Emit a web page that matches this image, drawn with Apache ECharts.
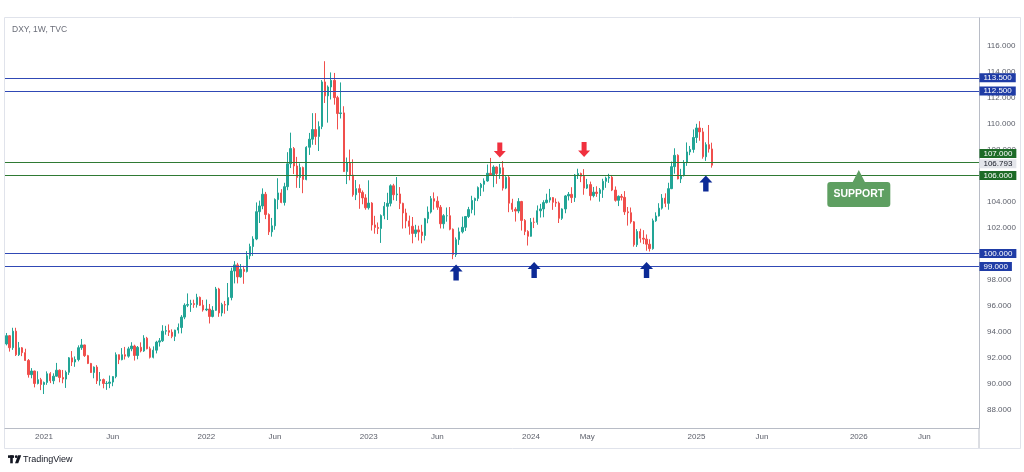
<!DOCTYPE html>
<html><head><meta charset="utf-8">
<script src="https://cdn.jsdelivr.net/npm/echarts@6/dist/echarts.min.js"></script>
<style>html,body{margin:0;padding:0;background:#fff}#c{width:1024px;height:472px}</style>
</head><body><div id="c"></div>
<script>
// Weekly DXY bars, first bar = week of 2020-10-12
const startWeek = [2020, 9, 12];
const weekCount = 312; // bars on the time axis incl. empty space to the right

const dxyOpen = [
 93.06,93.69,92.77,94.04,92.23,92.76,92.39,91.79,90.70,90.98,90.02,90.31,
 89.94,90.10,90.77,90.23,90.58,91.04,90.48,90.36,90.88,91.99,91.67,91.86,92.77,92.98,92.16,91.56,90.86,91.28,90.23,90.32,90.02,90.03,90.13,90.55,92.23,91.85,92.23,92.12,92.68,92.90,92.17,92.80,92.52,93.50,92.69,92.03,92.58,93.20,93.30,94.04,94.08,93.96,93.64,94.12,94.32,95.12,96.03,96.09,96.16,96.08,96.64,96.03,
 95.67,95.74,95.17,95.64,97.28,95.44,96.08,96.05,96.62,98.66,99.13,98.21,98.79,98.63,99.83,100.54,101.12,103.22,103.66,104.56,103.00,101.67,102.13,104.15,104.66,103.93,105.14,106.90,108.07,106.73,105.85,106.61,105.69,108.17,108.79,109.53,109.00,109.76,113.19,112.12,112.80,113.31,111.98,110.76,110.81,106.30,106.98,106.03,104.52,104.99,104.70,104.28,
 103.52,103.88,102.20,102.01,101.93,102.92,103.63,103.86,105.21,104.52,104.58,103.86,103.12,102.51,102.10,101.55,101.82,101.66,101.39,102.68,103.19,104.22,104.03,103.56,102.29,102.91,102.91,101.87,99.92,101.07,101.67,102.02,102.85,103.38,104.08,104.24,105.07,105.32,105.58,106.17,106.04,106.65,106.16,106.59,105.03,105.86,103.87,103.40,103.27,104.00,102.55,101.70,
 101.33,102.41,102.40,103.29,103.43,103.92,104.11,104.30,103.94,103.88,102.71,103.43,104.43,104.55,104.30,106.04,106.15,105.95,105.03,105.30,104.45,104.72,104.62,104.90,105.55,105.80,105.87,104.88,104.09,104.40,104.32,103.21,103.14,102.44,100.68,101.70,101.18,101.11,100.72,100.38,102.52,102.89,103.49,104.26,103.86,104.99,106.68,107.55,105.74,105.99,106.99,107.81,108.00,
 108.92,109.65,109.35,107.44,108.37,108.04
];
const dxyHigh = [
 93.90,93.74,94.30,94.30,93.21,92.82,92.69,91.90,91.20,91.00,90.96,90.45,
 90.17,90.95,90.89,90.80,91.60,91.10,91.06,91.02,92.05,92.51,92.10,92.95,93.44,93.00,92.22,91.60,91.33,91.43,90.90,90.40,90.20,90.63,90.58,92.41,92.25,92.74,92.83,92.84,93.19,93.00,92.90,93.18,93.73,93.60,92.85,92.87,93.30,93.51,94.50,94.45,94.56,94.18,94.15,94.63,95.27,96.18,96.94,96.45,96.46,96.91,96.70,96.44,
 96.47,96.13,95.96,97.44,97.37,96.22,96.36,97.74,98.92,99.42,99.29,99.20,99.06,100.19,100.76,101.33,103.93,104.07,105.01,104.74,103.09,102.74,104.24,105.79,104.95,105.44,107.79,109.29,108.19,107.43,106.93,106.69,108.25,109.27,110.79,110.79,110.16,113.33,114.78,112.92,113.92,113.88,112.12,113.15,111.32,107.38,107.99,107.24,105.65,105.32,104.85,104.56,
 105.63,103.95,102.90,102.39,103.01,103.96,104.67,105.32,105.36,105.88,105.11,103.91,103.45,102.92,102.81,102.21,102.14,102.21,102.74,103.62,104.42,104.70,104.40,103.73,103.03,103.54,103.58,101.93,101.24,102.00,102.84,102.85,103.59,104.44,104.30,105.16,105.43,105.78,106.84,107.35,106.78,106.70,106.89,107.11,105.95,106.00,104.21,103.56,104.26,104.05,102.65,101.80,
 102.73,102.76,103.70,103.82,104.10,104.60,104.97,104.34,104.24,104.00,103.48,104.49,104.73,105.10,106.11,106.52,106.22,106.49,105.74,105.53,105.12,105.17,105.04,105.75,105.91,106.13,106.04,105.16,104.47,104.58,104.80,103.58,103.54,102.50,101.88,101.91,101.80,101.47,101.10,102.69,103.17,103.87,104.57,104.63,105.44,107.07,108.09,107.63,106.51,107.18,108.54,108.27,109.54,
 109.97,110.17,109.65,108.55,109.88,108.52
];
const dxyLow = [
 92.95,92.47,92.60,92.13,92.13,92.12,91.75,90.47,90.42,89.72,89.95,89.51,
 89.21,89.92,90.05,89.97,90.55,90.11,90.04,89.68,90.68,91.36,91.30,91.72,92.60,92.06,91.51,90.84,90.42,89.98,89.86,89.65,89.53,89.66,89.81,90.42,91.51,91.80,91.86,92.00,92.50,91.78,91.88,92.41,92.45,92.64,91.94,91.95,92.33,92.86,93.21,93.77,93.67,93.50,93.28,93.86,93.87,94.96,95.89,95.52,95.83,95.85,95.97,95.54,
 95.58,94.63,95.10,95.60,95.14,95.18,95.38,95.60,96.41,97.71,97.71,98.14,97.68,98.55,99.57,99.82,101.03,102.35,103.41,102.65,101.43,101.30,101.83,103.41,103.87,103.69,104.87,106.57,106.11,105.05,105.04,104.64,105.63,107.58,108.36,108.35,107.88,109.56,111.57,110.06,111.84,111.44,109.54,110.38,106.27,105.34,105.63,104.37,104.11,103.44,103.79,103.37,
 103.38,101.77,101.53,101.50,100.82,102.64,102.58,103.63,104.10,104.05,103.42,101.92,101.95,101.45,100.79,101.26,101.00,100.79,101.01,102.33,103.08,103.37,103.36,101.93,101.92,102.45,101.79,99.57,99.74,100.67,101.55,101.74,102.73,103.09,102.94,104.03,104.42,104.76,105.52,106.00,105.10,105.36,105.74,104.84,104.95,103.18,103.20,102.46,103.10,101.77,101.42,100.62,
 101.30,101.96,102.22,102.77,102.79,103.85,103.92,103.36,103.59,102.35,102.59,103.10,104.08,103.89,103.97,105.73,105.49,104.52,104.96,104.08,104.32,104.36,103.99,104.28,105.05,105.43,104.80,103.99,103.65,104.08,102.97,102.15,102.30,100.53,100.51,100.84,100.73,100.22,100.16,100.30,102.44,102.85,103.38,103.57,103.37,104.95,106.14,105.70,105.42,105.92,106.74,107.56,107.75,
 108.50,108.67,107.29,107.12,107.76,106.60
];
const dxyClose = [
 93.69,92.77,94.04,92.23,92.76,92.39,91.79,90.70,90.98,90.02,90.31,89.94,
 90.10,90.77,90.23,90.58,91.04,90.48,90.36,90.88,91.99,91.67,91.86,92.77,92.98,92.16,91.56,90.86,91.28,90.23,90.32,90.02,90.03,90.13,90.55,92.23,91.85,92.23,92.12,92.68,92.90,92.17,92.80,92.52,93.50,92.69,92.03,92.58,93.20,93.30,94.04,94.08,93.96,93.64,94.12,94.32,95.12,96.03,96.09,96.16,96.08,96.64,96.03,95.67,
 95.74,95.17,95.64,97.28,95.44,96.08,96.05,96.62,98.66,99.13,98.21,98.79,98.63,99.83,100.54,101.12,103.22,103.66,104.56,103.00,101.67,102.13,104.15,104.66,103.93,105.14,106.90,108.07,106.73,105.85,106.61,105.69,108.17,108.79,109.53,109.00,109.76,113.19,112.12,112.80,113.31,111.98,110.76,110.81,106.30,106.98,106.03,104.52,104.99,104.70,104.28,103.52,
 103.88,102.20,102.01,101.93,102.92,103.63,103.86,105.21,104.52,104.58,103.86,103.12,102.51,102.10,101.55,101.82,101.66,101.39,102.68,103.19,104.22,104.03,103.56,102.29,102.91,102.91,101.87,99.92,101.07,101.67,102.02,102.85,103.38,104.08,104.24,105.07,105.32,105.58,106.17,106.04,106.65,106.16,106.59,105.03,105.86,103.87,103.40,103.27,104.00,102.55,101.70,101.33,
 102.41,102.40,103.29,103.43,103.92,104.11,104.30,103.94,103.88,102.71,103.43,104.43,104.55,104.30,106.04,106.15,105.95,105.03,105.30,104.45,104.72,104.62,104.90,105.55,105.80,105.87,104.88,104.09,104.40,104.32,103.21,103.14,102.44,100.68,101.70,101.18,101.11,100.72,100.38,102.52,102.89,103.49,104.26,103.86,104.99,106.68,107.55,105.74,105.99,106.99,107.81,108.00,108.92,
 109.65,109.35,107.44,108.37,108.04,106.79
];

const timeTicks = [
 ['2021-01-04','2021'],['2021-06-07','Jun'],['2022-01-03','2022'],['2022-06-06','Jun'],
 ['2023-01-02','2023'],['2023-06-05','Jun'],['2024-01-01','2024'],['2024-05-06','May'],
 ['2025-01-06','2025'],['2025-06-02','Jun'],['2026-01-05','2026'],['2026-06-01','Jun']
];
const priceTicks = [88,90,92,94,96,98,100,102,104,106,108,110,112,114,116];
const blueLevels = [113.5, 112.5, 100, 99];
const greenLevels = [107, 106];
const lastPrice = 106.793;
const downArrows = [[158, 107.96], [185, 108.0]];          // [bar index, price]
const upArrows = [[144, 98.55], [169, 98.74], [205, 98.74], [224, 105.38]];
const supportNote = [273, 105.0, 'SUPPORT'];
const titleText = 'DXY, 1W, TVC';

// ---- build ----
const cats = [];
const t0 = Date.UTC(startWeek[0], startWeek[1], startWeek[2]);
for (let i = 0; i < weekCount; i++) cats.push(new Date(t0 + i * 7 * 86400000).toISOString().slice(0, 10));
const tickMap = Object.fromEntries(timeTicks);
const candles = dxyOpen.map((o, i) => [o, dxyClose[i], dxyLow[i], dxyHigh[i]]);

const FONT = 'Liberation Sans, Arial, sans-serif';
const BLUE_LINE = '#3049b5', BLUE_BOX = '#1f3ca6';
const GREEN_LINE = '#2f7a34', GREEN_BOX = '#1d6b27';
const lastCat = cats[cats.length - 1];

const markLines = [];
blueLevels.forEach(v => markLines.push({ yAxis: v, lineStyle: { color: BLUE_LINE, width: 1.2, type: 'solid' }, label: { show: false } }));
greenLevels.forEach(v => markLines.push({ yAxis: v, lineStyle: { color: GREEN_LINE, width: 1.2, type: 'solid' }, label: { show: false } }));

// price-scale tags, anchored on the level value at the right edge of the pane
function scaleTag(v, boxColor, textColor, dy) {
  return {
    coord: [lastCat, v], symbol: 'rect', symbolSize: 0.01, itemStyle: { color: 'rgba(0,0,0,0)' },
    label: {
      show: true, position: 'right', distance: 2, offset: [0, dy], formatter: v.toFixed(3),
      backgroundColor: boxColor, color: textColor, fontSize: 8, fontFamily: FONT,
      lineHeight: 9, padding: [0, 4, 0, 4]
    }
  };
}
const DOWN_PATH = 'path://M3.5 0L8.5 0L8.5 9L12 9L6 16L0 9L3.5 9Z';
const UP_PATH = 'path://M6 0L12 7L8.5 7L8.5 16L3.5 16L3.5 7L0 7Z';
const CALLOUT_PATH = 'path://M31 0L37 12L59 12Q62 12 62 15L62 34Q62 37 59 37L3 37Q0 37 0 34L0 15Q0 12 3 12L25 12Z';
const markPoints = [];
downArrows.forEach(a => markPoints.push({ coord: [cats[a[0]], a[1]], symbol: DOWN_PATH, symbolSize: [12, 15], itemStyle: { color: '#f0303e' }, label: { show: false } }));
upArrows.forEach(a => markPoints.push({ coord: [cats[a[0]], a[1]], symbol: UP_PATH, symbolSize: [13, 16], itemStyle: { color: '#0c2a96' }, label: { show: false } }));
markPoints.push({
  coord: [cats[supportNote[0]], supportNote[1]], symbol: CALLOUT_PATH, symbolSize: [63, 37],
  itemStyle: { color: '#5e9f61' },
  label: { show: true, formatter: supportNote[2], color: '#ffffff', fontSize: 10.5, fontWeight: 'bold', fontFamily: FONT, offset: [0, 6] }
});
blueLevels.forEach(v => markPoints.push(scaleTag(v, BLUE_BOX, '#ffffff', 0)));
markPoints.push(scaleTag(greenLevels[0], GREEN_BOX, '#ffffff', -9));
markPoints.push(scaleTag(greenLevels[1], GREEN_BOX, '#ffffff', 0));
markPoints.push(scaleTag(lastPrice, '#e3e5ea', '#131722', -1.5));

const chart = echarts.init(document.getElementById('c'), null, { renderer: 'canvas' });
chart.setOption({
  animation: false,
  backgroundColor: '#ffffff',
  textStyle: { fontFamily: FONT },
  title: { text: titleText, left: 12, top: 25, padding: 0, textStyle: { fontSize: 8.5, fontWeight: 'normal', color: '#6a6d78', fontFamily: FONT } },
  grid: { left: 5, right: 45, top: 18, bottom: 44 },
  xAxis: {
    type: 'category', data: cats, boundaryGap: true,
    axisLine: { lineStyle: { color: '#b8bcc6', width: 1 } },
    axisTick: { show: false }, splitLine: { show: false },
    axisLabel: { interval: (i, v) => v in tickMap, formatter: v => tickMap[v] || '', color: '#5d606b', fontSize: 8, margin: 5, fontFamily: FONT }
  },
  yAxis: {
    type: 'value', position: 'right', min: 86.6, max: 118.1,
    axisLine: { show: true, lineStyle: { color: '#b8bcc6', width: 1 } },
    axisTick: { show: false }, splitLine: { show: false },
    axisLabel: { customValues: priceTicks, formatter: v => v.toFixed(3), color: '#5d606b', fontSize: 8, margin: 8, fontFamily: FONT }
  },
  series: [{
    type: 'candlestick', data: candles, barWidth: 1.9,
    itemStyle: { color: '#22a596', color0: '#f04f4c', borderColor: '#22a596', borderColor0: '#f04f4c', borderWidth: 1 },
    markLine: { silent: true, symbol: ['none', 'none'], animation: false, data: markLines },
    markPoint: { silent: true, animation: false, data: markPoints }
  }],
  graphic: [
    { type: 'rect', shape: { x: 4.5, y: 17.5, width: 1016, height: 431 }, style: { fill: null, stroke: '#e0e3eb', lineWidth: 1 }, silent: true, z: -1 },
    { type: 'line', shape: { x1: 979, y1: 428, x2: 979, y2: 448 }, style: { stroke: '#b8bcc6', lineWidth: 1 }, silent: true },
    { type: 'group', left: 8, top: 455, children: [
      { type: 'rect', shape: { x: 0, y: 0, width: 6, height: 2.6 }, style: { fill: '#131722' } },
      { type: 'rect', shape: { x: 2.2, y: 0, width: 2.6, height: 8 }, style: { fill: '#131722' } },
      { type: 'circle', shape: { cx: 8.2, cy: 1.4, r: 1.4 }, style: { fill: '#131722' } },
      { type: 'polygon', shape: { points: [[10, 0], [13.2, 0], [10.2, 8], [7, 8]] }, style: { fill: '#131722' } },
      { type: 'text', style: { x: 15, y: 4.2, text: 'TradingView', fill: '#131722', font: '9px ' + FONT, textVerticalAlign: 'middle' } }
    ] }
  ]
});
</script>
</body></html>
